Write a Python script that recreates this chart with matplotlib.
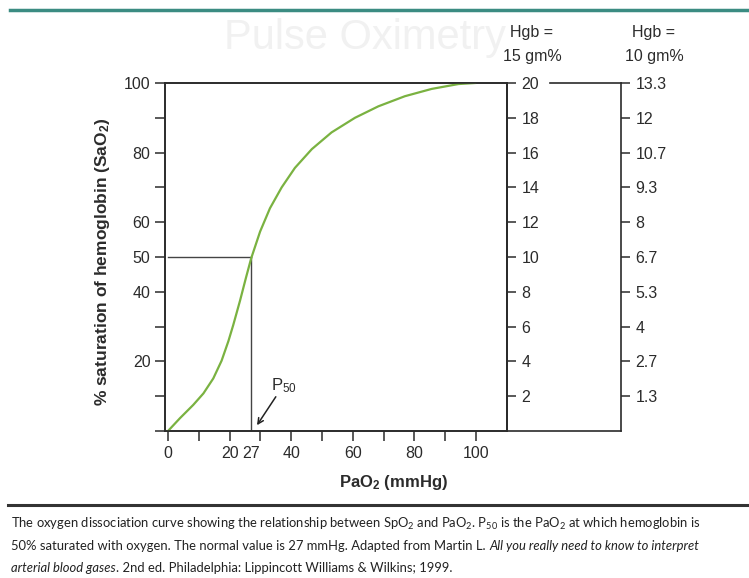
import matplotlib
matplotlib.use("Agg")
import matplotlib.pyplot as plt
import numpy as np

plt.rcParams['font.family'] = ['Liberation Sans', 'DejaVu Sans']
plt.rcParams['mathtext.default'] = 'regular'

# oxygen dissociation curve
pao2 = [0, 3.9, 8.2, 11.5, 14.7, 17.4, 19.6, 21.2, 23.4, 25.3, 27, 29.9, 33.1, 36.9,
        41.2, 46.7, 53.1, 60.7, 68.3, 76.9, 85.6, 94.3, 99.7]
sao2 = [0, 3.7, 7.5, 10.8, 15.1, 20.2, 25.8, 30.5, 37.5, 44, 49.6, 57.3, 64, 70,
        75.6, 81, 85.8, 90, 93.3, 96.2, 98.3, 99.7, 100]
p50 = 27

x_ticks = [0, 10, 20, 30, 40, 50, 60, 70, 80, 90, 100]
x_labels = ['0', '', '20', '', '40', '', '60', '', '80', '', '100']
y_ticks = [0, 10, 20, 30, 40, 50, 60, 70, 80, 90, 100]
y_labels = ['', '', '20', '', '40', '50', '60', '', '80', '', '100']
hgb15_ticks = [2, 4, 6, 8, 10, 12, 14, 16, 18, 20]
hgb10_labels = ['1.3', '2.7', '4', '5.3', '6.7', '8', '9.3', '10.7', '12', '13.3']

W, H = 749, 578
dark = '#2b2b2b'
fs = 11.5
fig = plt.figure(figsize=(W / 100, H / 100), dpi=100)

# faint bleed-through title
fig.text(365 / W, 1 - 38 / H, 'Pulse Oximetry', fontsize=30, color='#f1f1f1',
         ha='center', va='center', zorder=0)

L, R, R2, T, B = 165, 507, 621, 83, 431
ax = fig.add_axes([L / W, 1 - B / H, (R - L) / W, (B - T) / H])
ax.set_xlim((L - 168) / 3.08, (R - 168) / 3.08)
ax.set_ylim(0, 100)
ax.plot(pao2, sao2, color='#7ab241', lw=1.6, zorder=3, solid_joinstyle='round')
ax.plot([0, p50], [50, 50], color='#444444', lw=1)
ax.plot([p50, p50], [0, 50], color='#444444', lw=1)
ax.annotate('', xy=(28.4, 1), xytext=(35.5, 10.5),
            arrowprops=dict(arrowstyle='->', color='#222222', lw=1.1))
ax.text(37.5, 13, 'P$_{50}$', fontsize=12, color=dark, ha='center', va='center')

ax.set_xticks(x_ticks)
ax.set_xticklabels(x_labels)
ax.set_xticks([p50], minor=True)
ax.set_xticklabels(['27'], minor=True)
ax.set_yticks(y_ticks)
ax.set_yticklabels(y_labels)
ax.tick_params(axis='both', which='major', direction='out', length=7, width=1.1,
               color=dark, labelcolor=dark, labelsize=fs, pad=3.5)
ax.tick_params(axis='x', which='minor', length=0, labelsize=fs, labelcolor=dark, pad=10.5)
for s in ax.spines.values():
    s.set_color(dark)
    s.set_linewidth(1.2)

tw = ax.twinx()
tw.set_ylim(0, 20)
tw.set_yticks(hgb15_ticks)
tw.set_yticklabels([str(v) for v in hgb15_ticks])
tw.tick_params(axis='y', direction='out', length=6.5, width=1.1, color=dark,
               labelcolor=dark, labelsize=fs, pad=4)
for s in tw.spines.values():
    s.set_color(dark)
    s.set_linewidth(1.2)

ax3 = fig.add_axes([R / W, 1 - B / H, (R2 - R) / W, (B - T) / H])
ax3.set_xlim(0, 1)
ax3.set_ylim(0, 20)
ax3.patch.set_alpha(0)
ax3.set_xticks([])
ax3.yaxis.tick_right()
ax3.set_yticks(hgb15_ticks)
ax3.set_yticklabels(hgb10_labels)
ax3.tick_params(axis='y', direction='out', length=6.5, width=1.1, color=dark,
                labelcolor=dark, labelsize=fs, pad=4)
for s in ax3.spines.values():
    s.set_color(dark)
    s.set_linewidth(1.2)
ax3.spines['top'].set_bounds(0.38, 1)

for xc, txt in [(532, '15 gm%'), (654, '10 gm%')]:
    fig.text(xc / W, 1 - 33 / H, 'Hgb =', fontsize=fs, color=dark, ha='center', va='center')
    fig.text(xc / W, 1 - 56 / H, txt, fontsize=fs, color=dark, ha='center', va='center')

fig.text(103 / W, 1 - 262 / H, '% saturation of hemoglobin (SaO$_2$)', fontsize=12.5,
         fontweight='bold', color=dark, rotation=90, ha='center', va='center')
fig.text(393 / W, 1 - 482 / H, 'PaO$_2$ (mmHg)', fontsize=12, fontweight='bold',
         color=dark, ha='center', va='center')

# decorative rules
fig.add_artist(plt.Line2D([10 / W, 1], [1 - 10 / H] * 2, color='#3b8c82', lw=2.5))
fig.add_artist(plt.Line2D([8 / W, 1], [1 - 505 / H] * 2, color='#333333', lw=2.2))

# caption, drawn piece by piece so italics can sit inline
cap_font = ['Lato', 'DejaVu Sans']
renderer = fig.canvas.get_renderer()


def caption_line(y, parts):
    x = 11
    for txt, style in parts:
        t = fig.text(x / W, 1 - y / H, txt, fontsize=9.35, style=style, family=cap_font,
                     color='#222222', va='center', ha='left')
        bb = t.get_window_extent(renderer)
        x = bb.x1


caption_line(524, [('The oxygen dissociation curve showing the relationship between SpO$_2$ and PaO$_2$. '
                    'P$_{50}$ is the PaO$_2$ at which hemoglobin is', 'normal')])
caption_line(546, [('50% saturated with oxygen. The normal value is 27 mmHg. Adapted from Martin L. ', 'normal'),
                   ('All you really need to know to interpret', 'italic')])
caption_line(568, [('arterial blood gases', 'italic'),
                   ('. 2nd ed. Philadelphia: Lippincott Williams & Wilkins; 1999.', 'normal')])

fig.savefig('out.png', dpi=100)
